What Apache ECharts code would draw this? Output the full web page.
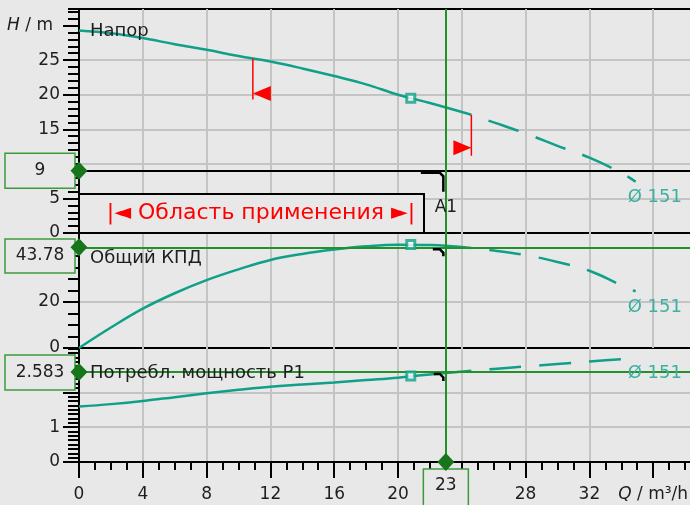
<!DOCTYPE html>
<html>
<head>
<meta charset="utf-8">
<title>Pump curve</title>
<script src="https://cdn.jsdelivr.net/npm/echarts@6.0.0/dist/echarts.min.js"></script>
<style>
html, body { margin: 0; padding: 0; background: #e8e8e8; }
#chart { width: 690px; height: 505px; }
</style>
</head>
<body>
<div id="chart"></div>
<script>
// расход Q, м3/ч: рабочий участок (сплошная) и продолжение (пунктир)
var qSolid = [0, 2, 4, 6, 8, 10, 12, 14, 16, 18, 20, 22, 24.6];
var qDash = [24.6, 26, 28, 30, 32, 34, 34.9];

// напор H, м
var headSolid = [29.3, 28.9, 28.2, 27.3, 26.5, 25.6, 24.8, 23.8, 22.7, 21.5, 20.0, 18.8, 17.1];
var headDash = [17.1, 16.0, 14.4, 12.6, 10.9, 8.7, 7.4];

// общий КПД, %
var effSolid = [0, 8.9, 17.1, 23.8, 29.5, 34.2, 38.3, 40.9, 42.8, 44.2, 44.9, 44.8, 43.5];
var effDash = [43.5, 42.4, 40.4, 37.4, 33.6, 27.3, 24.6];

// потребляемая мощность P1
var powSolid = [1.59, 1.66, 1.75, 1.86, 1.97, 2.07, 2.16, 2.22, 2.28, 2.35, 2.42, 2.51, 2.62];
var powDash = [2.62, 2.67, 2.74, 2.81, 2.88, 2.95, 2.98];

// точка оптимума (квадратики)
var bepQ = [20.8];
var bepHead = [19.5];
var bepEff = [45.0];
var bepPow = [2.47];

// рабочая точка A1
var dutyQ = 23;
var dutyHead = 9;
var dutyEff = 43.78;
var dutyPow = 2.583;

// границы области применения
var rangeQ = [10.9, 24.6];

// оси
var xMax = 38.37, hMax = 32.4, effMax = 50, powMax = 3.27;
var xTicks = [0, 4, 8, 12, 16, 20, 24, 28, 32, 36];
var xLabels = [0, 4, 8, 12, 16, 20, 28, 32, 36];
var hTicks = [0, 5, 10, 15, 20, 25, 30];
var hLabels = [0, 5, 15, 20, 25, 30];
var effTicks = [0, 20, 40];
var effLabels = [0, 20];
var powTicks = [0, 1, 2, 3];
var powLabels = [0, 1];

var teal = '#10a088';
var lightTeal = '#3eb0a2';
var green = '#23902a';
var darkGreen = '#17751b';
var gridGray = '#c4c4c4';
var bg = '#e8e8e8';
var font = 'DejaVu Sans';
var ink = '#1e1e1e';

var chart = echarts.init(document.getElementById('chart'));

function pairs(xs, ys) {
    return xs.map(function (x, i) { return [x, ys[i]]; });
}
function valueAt(xs, ys, q) {
    for (var i = 0; i < xs.length - 1; i++) {
        if (q >= xs[i] && q <= xs[i + 1]) {
            return ys[i] + (ys[i + 1] - ys[i]) * (q - xs[i]) / (xs[i + 1] - xs[i]);
        }
    }
    return ys[ys.length - 1];
}
function splitGray(colors) {
    return { show: true, showMinLine: false, showMaxLine: false, lineStyle: { color: colors || gridGray, width: 2 } };
}
var tickStyle = { color: '#000', width: 2 };
var labelStyle = {
    fontFamily: font, fontSize: 17, color: ink, hideOverlap: false,
    rich: {
        i: { fontFamily: font, fontSize: 17, color: ink, fontStyle: 'italic' },
        n: { fontFamily: font, fontSize: 17, color: ink, padding: [0, 7, 0, 0] }
    }
};

function majorY(grid, max, interval, ticks, labels, split) {
    return {
        gridIndex: grid, type: 'value', position: 'left', min: 0, max: max, interval: interval,
        axisLine: { show: true, onZero: false, lineStyle: { color: '#000', width: 2 } },
        axisTick: { show: true, length: 16, lineStyle: tickStyle, customValues: ticks },
        axisLabel: Object.assign({}, labelStyle, {
            margin: 19, customValues: labels,
            formatter: function (v) { return v === 30 && grid === 0 ? '{i|H}{n| / m}' : String(v); }
        }),
        splitLine: split
    };
}
function minorY(grid, max, interval) {
    return {
        gridIndex: grid, type: 'value', position: 'left', min: 0, max: max, interval: interval,
        axisLine: { show: false }, axisLabel: { show: false }, splitLine: { show: false },
        axisTick: { show: true, length: 11, lineStyle: tickStyle }
    };
}
function hiddenX(grid) {
    return {
        gridIndex: grid, type: 'value', position: 'bottom', min: 0, max: xMax, interval: 4,
        axisLine: { show: false }, axisTick: { show: false }, axisLabel: { show: false },
        splitLine: splitGray()
    };
}
function mline(list) {
    return { silent: true, symbol: 'none', animation: false, label: { show: false }, data: list };
}
var greenLine = { color: green, width: 2, type: 'solid' };
function diamonds(list) {
    return {
        symbol: 'diamond', symbolSize: [17, 18], silent: true, animation: false,
        itemStyle: { color: darkGreen }, label: { show: false },
        data: list.map(function (c) { return { coord: c }; })
    };
}
function curve(xi, yi, xs, ys, dashed, extra) {
    var s = {
        type: 'line', xAxisIndex: xi, yAxisIndex: yi, data: pairs(xs, ys),
        smooth: 0.4, showSymbol: false, silent: true, z: 3,
        lineStyle: { color: teal, width: 2.5, type: dashed ? [32, 18] : 'solid', dashOffset: dashed ? 32 : 0 }
    };
    return Object.assign(s, extra || {});
}
function bep(xi, yi, ys) {
    return {
        type: 'scatter', xAxisIndex: xi, yAxisIndex: yi, data: pairs(bepQ, ys), z: 5, silent: true,
        symbol: 'rect', symbolSize: 8, itemStyle: { color: '#fff', borderColor: teal, borderWidth: 3 }
    };
}

var gridBase = { left: 79, right: -1, show: true, backgroundColor: bg, borderColor: '#000', borderWidth: 2, outerBoundsMode: 'none', containLabel: false };

var option = {
    animation: false,
    backgroundColor: bg,
    grid: [
        Object.assign({}, gridBase, { top: 9, height: 224 }),
        Object.assign({}, gridBase, { top: 233, height: 115 }),
        Object.assign({}, gridBase, { top: 348, height: 114 })
    ],
    xAxis: [
        hiddenX(0),
        hiddenX(1),
        {
            gridIndex: 2, type: 'value', position: 'bottom', min: 0, max: xMax, interval: 4,
            axisLine: { show: true, onZero: false, lineStyle: { color: '#000', width: 2 } },
            axisTick: { show: true, length: 16, lineStyle: tickStyle, customValues: xTicks },
            axisLabel: Object.assign({}, labelStyle, {
                margin: 24, customValues: xLabels,
                formatter: function (v) { return v === 36 ? '{i|Q} / m³/h' : String(v); }
            }),
            splitLine: splitGray()
        },
        {
            gridIndex: 2, type: 'value', position: 'bottom', min: 0, max: xMax, interval: 1,
            axisLine: { show: false }, axisLabel: { show: false }, splitLine: { show: false },
            axisTick: { show: true, length: 8, lineStyle: tickStyle }
        }
    ],
    yAxis: [
        majorY(0, hMax, 5, hTicks, hLabels, splitGray()),
        minorY(0, hMax, 1),
        majorY(1, effMax, 20, effTicks, effLabels, splitGray([gridGray, 'rgba(0,0,0,0)'])),
        minorY(1, effMax, 5),
        majorY(2, powMax, 1, powTicks, powLabels, splitGray()),
        minorY(2, powMax, 0.125)
    ],
    series: [
        curve(0, 0, qSolid, headSolid, false, {
            markLine: mline([
                { yAxis: dutyHead, lineStyle: { color: '#000', width: 2, type: 'solid' } },
                { xAxis: dutyQ, lineStyle: greenLine }
            ]),
            markPoint: diamonds([[0, dutyHead]])
        }),
        curve(0, 0, qDash, headDash, true),
        curve(1, 2, qSolid, effSolid, false, {
            markLine: mline([
                { yAxis: dutyEff, lineStyle: greenLine },
                { xAxis: dutyQ, lineStyle: greenLine }
            ]),
            markPoint: diamonds([[0, dutyEff]])
        }),
        curve(1, 2, qDash, effDash, true),
        curve(2, 4, qSolid, powSolid, false, {
            markLine: mline([
                { yAxis: dutyPow, lineStyle: greenLine },
                { xAxis: dutyQ, lineStyle: greenLine }
            ]),
            markPoint: diamonds([[0, dutyPow], [dutyQ, 0]])
        }),
        curve(2, 4, qDash, powDash, true),
        bep(0, 0, bepHead),
        bep(1, 2, bepEff),
        bep(2, 4, bepPow)
    ]
};
chart.setOption(option);

// подписи и пометки поверх графика
function px(xi, yi, q, v) {
    return chart.convertToPixel({ xAxisIndex: xi, yAxisIndex: yi }, [q, v]);
}
function txt(x, y, s, opts) {
    return Object.assign({
        type: 'text', x: x, y: y, z: 10, silent: true,
        style: Object.assign({ text: s, fill: ink, font: '18px "' + font + '"', textAlign: 'left', textVerticalAlign: 'middle' }, opts || {})
    });
}
function valueBox(x, y, w, h, s) {
    return [
        { type: 'rect', z: 1, silent: true, shape: { x: x, y: y, width: w, height: h },
          style: { fill: bg, stroke: '#3c9a3c', lineWidth: 1.5 } },
        txt(x + w / 2, y + h / 2, s, { textAlign: 'center', font: '17px "' + font + '"' })
    ];
}

var g = [];

// область применения
g.push({ type: 'rect', z: 1, silent: true, shape: { x: 79, y: 194, width: 345, height: 39 },
         style: { fill: bg, stroke: '#000', lineWidth: 2 } });
g.push(txt(261, 213, '|◄ Область применения ►|', { fill: '#ff0000', textAlign: 'center', font: '22px "' + font + '"' }));

// красные границы на кривой напора
rangeQ.forEach(function (q, i) {
    var p = px(0, 0, q, valueAt(qSolid, headSolid, q));
    var x = p[0], y = p[1];
    var ty = y + (i === 0 ? 35 : 33);
    var dir = i === 0 ? 1 : -1;
    g.push({ type: 'line', z: 4, silent: true, shape: { x1: x, y1: y, x2: x, y2: y + 41 },
             style: { stroke: '#ff0000', lineWidth: 1.5 } });
    g.push({ type: 'polygon', z: 4, silent: true,
             shape: { points: [[x, ty], [x + dir * 18, ty - 7.5], [x + dir * 18, ty + 7.5]] },
             style: { fill: '#ff0000' } });
});

// названия кривых
g.push(txt(90, 31, 'Напор'));
g.push(txt(90, 258, 'Общий КПД'));
g.push(txt(90, 373, 'Потребл. мощность P1'));

// диаметр рабочего колеса у конца кривых
[[0, 0, headDash], [1, 2, effDash], [2, 4, powDash]].forEach(function (c) {
    var p = px(c[0], c[1], qDash[qDash.length - 1], c[2][c[2].length - 1]);
    g.push(txt(p[0] - 8, p[1] + 15.5, 'Ø 151', { fill: lightTeal }));
});

// значения рабочей точки
var pH = px(0, 0, dutyQ, dutyHead);
var pE = px(1, 2, dutyQ, dutyEff);
var pP = px(2, 4, dutyQ, dutyPow);
var pQ = px(2, 4, dutyQ, 0);
g = g.concat(valueBox(5, pH[1] - 17.5, 70, 35, String(dutyHead)));
g = g.concat(valueBox(5, Math.max(pE[1] - 17.5, 239), 70, 34, String(dutyEff)));
g = g.concat(valueBox(5, pP[1] - 17, 70, 35, String(dutyPow)));
g = g.concat(valueBox(pQ[0] - 22.5, pQ[1] + 7, 45, 45, String(dutyQ)));
g[g.length - 1].y = pQ[1] + 24;

// уголки рабочей точки
function corner(p, w, h) {
    var x = p[0], y = p[1];
    return { type: 'polyline', z: 6, silent: true,
             shape: { points: [[x - w, y + 2], [x - 6, y + 2], [x - 2.5, y + 5.5], [x - 2.5, y + h]] },
             style: { stroke: '#000', lineWidth: 2.5, fill: null } };
}
g.push(corner(pH, 25, 21));
g.push(corner(pE, 13, 9));
g.push(corner(pP, 12, 9));
g.push(txt(pH[0], pH[1] + 37, 'A1', { textAlign: 'center', font: '17px "' + font + '"' }));

chart.setOption({ graphic: g });
</script>
</body>
</html>
